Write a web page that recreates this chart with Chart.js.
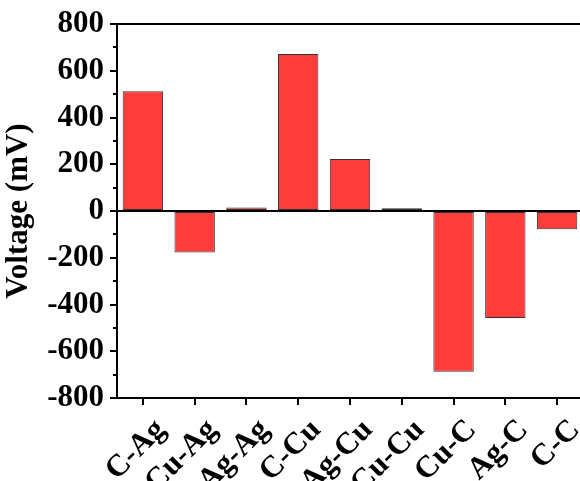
<!DOCTYPE html>
<html>
<head>
<meta charset="utf-8">
<script src="https://cdn.jsdelivr.net/npm/chart.js@4"></script>
<style>
  html, body { margin: 0; padding: 0; background: #fff; overflow: hidden; }
  #wrap { width: 588px; height: 481px; position: relative; }
</style>
</head>
<body>
<div id="wrap"><canvas id="c"></canvas></div>
<script>
const categories = ['C-Ag', 'Cu-Ag', 'Ag-Ag', 'C-Cu', 'Ag-Cu', 'Cu-Cu', 'Cu-C', 'Ag-C', 'C-C'];
const voltage = [512, -178, 15, 672, 222, 12, -688, -458, -78];
const yMin = -800, yMax = 800, yStep = 100;

const serif = "'Liberation Serif', 'Times New Roman', serif";

// tick marks: long at labelled values, short in between
const tickMarks = {
  id: 'tickMarks',
  afterDraw(chart) {
    const { ctx, scales: { x, y }, chartArea } = chart;
    ctx.save();
    ctx.strokeStyle = '#000';
    ctx.lineWidth = 2;
    for (let v = yMin; v <= yMax; v += yStep) {
      const py = Math.round(y.getPixelForValue(v));
      const len = v % 200 === 0 ? 7 : 4;
      ctx.beginPath();
      ctx.moveTo(chartArea.left - len, py);
      ctx.lineTo(chartArea.left, py);
      ctx.stroke();
    }
    categories.forEach((c, i) => {
      const px = Math.round(x.getPixelForValue(i));
      ctx.beginPath();
      ctx.moveTo(px, chartArea.bottom);
      ctx.lineTo(px, chartArea.bottom + 7);
      ctx.stroke();
    });
    ctx.restore();
  }
};

new Chart(document.getElementById('c'), {
  type: 'bar',
  data: {
    labels: categories,
    datasets: [{
      data: voltage,
      backgroundColor: '#FF3B3B',
      borderColor: '#333',
      borderWidth: 1,
      borderSkipped: false,
      barPercentage: 0.78,
      categoryPercentage: 1
    }]
  },
  options: {
    responsive: true,
    maintainAspectRatio: false,
    animation: false,
    layout: { padding: { top: 24, right: 5, left: 0, bottom: 0 } },
    plugins: { legend: { display: false }, tooltip: { enabled: false } },
    scales: {
      x: {
        grid: { display: false, drawTicks: false },
        border: { display: true, color: '#000', width: 2 },
        ticks: {
          color: '#000', maxRotation: 45, minRotation: 45, padding: 14, labelOffset: 18, autoSkip: false,
          font: { family: serif, weight: 'bold', size: 31 }
        },
        afterFit(s) { s.height = 83; s.paddingLeft = 0; s.paddingRight = 0; }
      },
      y: {
        min: yMin, max: yMax,
        grid: {
          drawTicks: false,
          color: c => (c.tick && (c.tick.value === 0 || c.tick.value === yMax)) ? '#000' : 'rgba(0,0,0,0)',
          lineWidth: 2
        },
        border: { display: true, color: '#000', width: 2 },
        ticks: {
          stepSize: yStep, color: '#000', padding: 13,
          callback: v => v % 200 === 0 ? v : '',
          font: { family: serif, weight: 'bold', size: 31 }
        },
        title: {
          display: true, text: 'Voltage (mV)', color: '#000', padding: { top: 0, bottom: 2 },
          font: { family: serif, weight: 'bold', size: 31 }
        },
        afterFit(s) { s.width = 117; s.paddingTop = 0; s.paddingBottom = 0; }
      }
    }
  },
  plugins: [tickMarks]
});
</script>
</body>
</html>
